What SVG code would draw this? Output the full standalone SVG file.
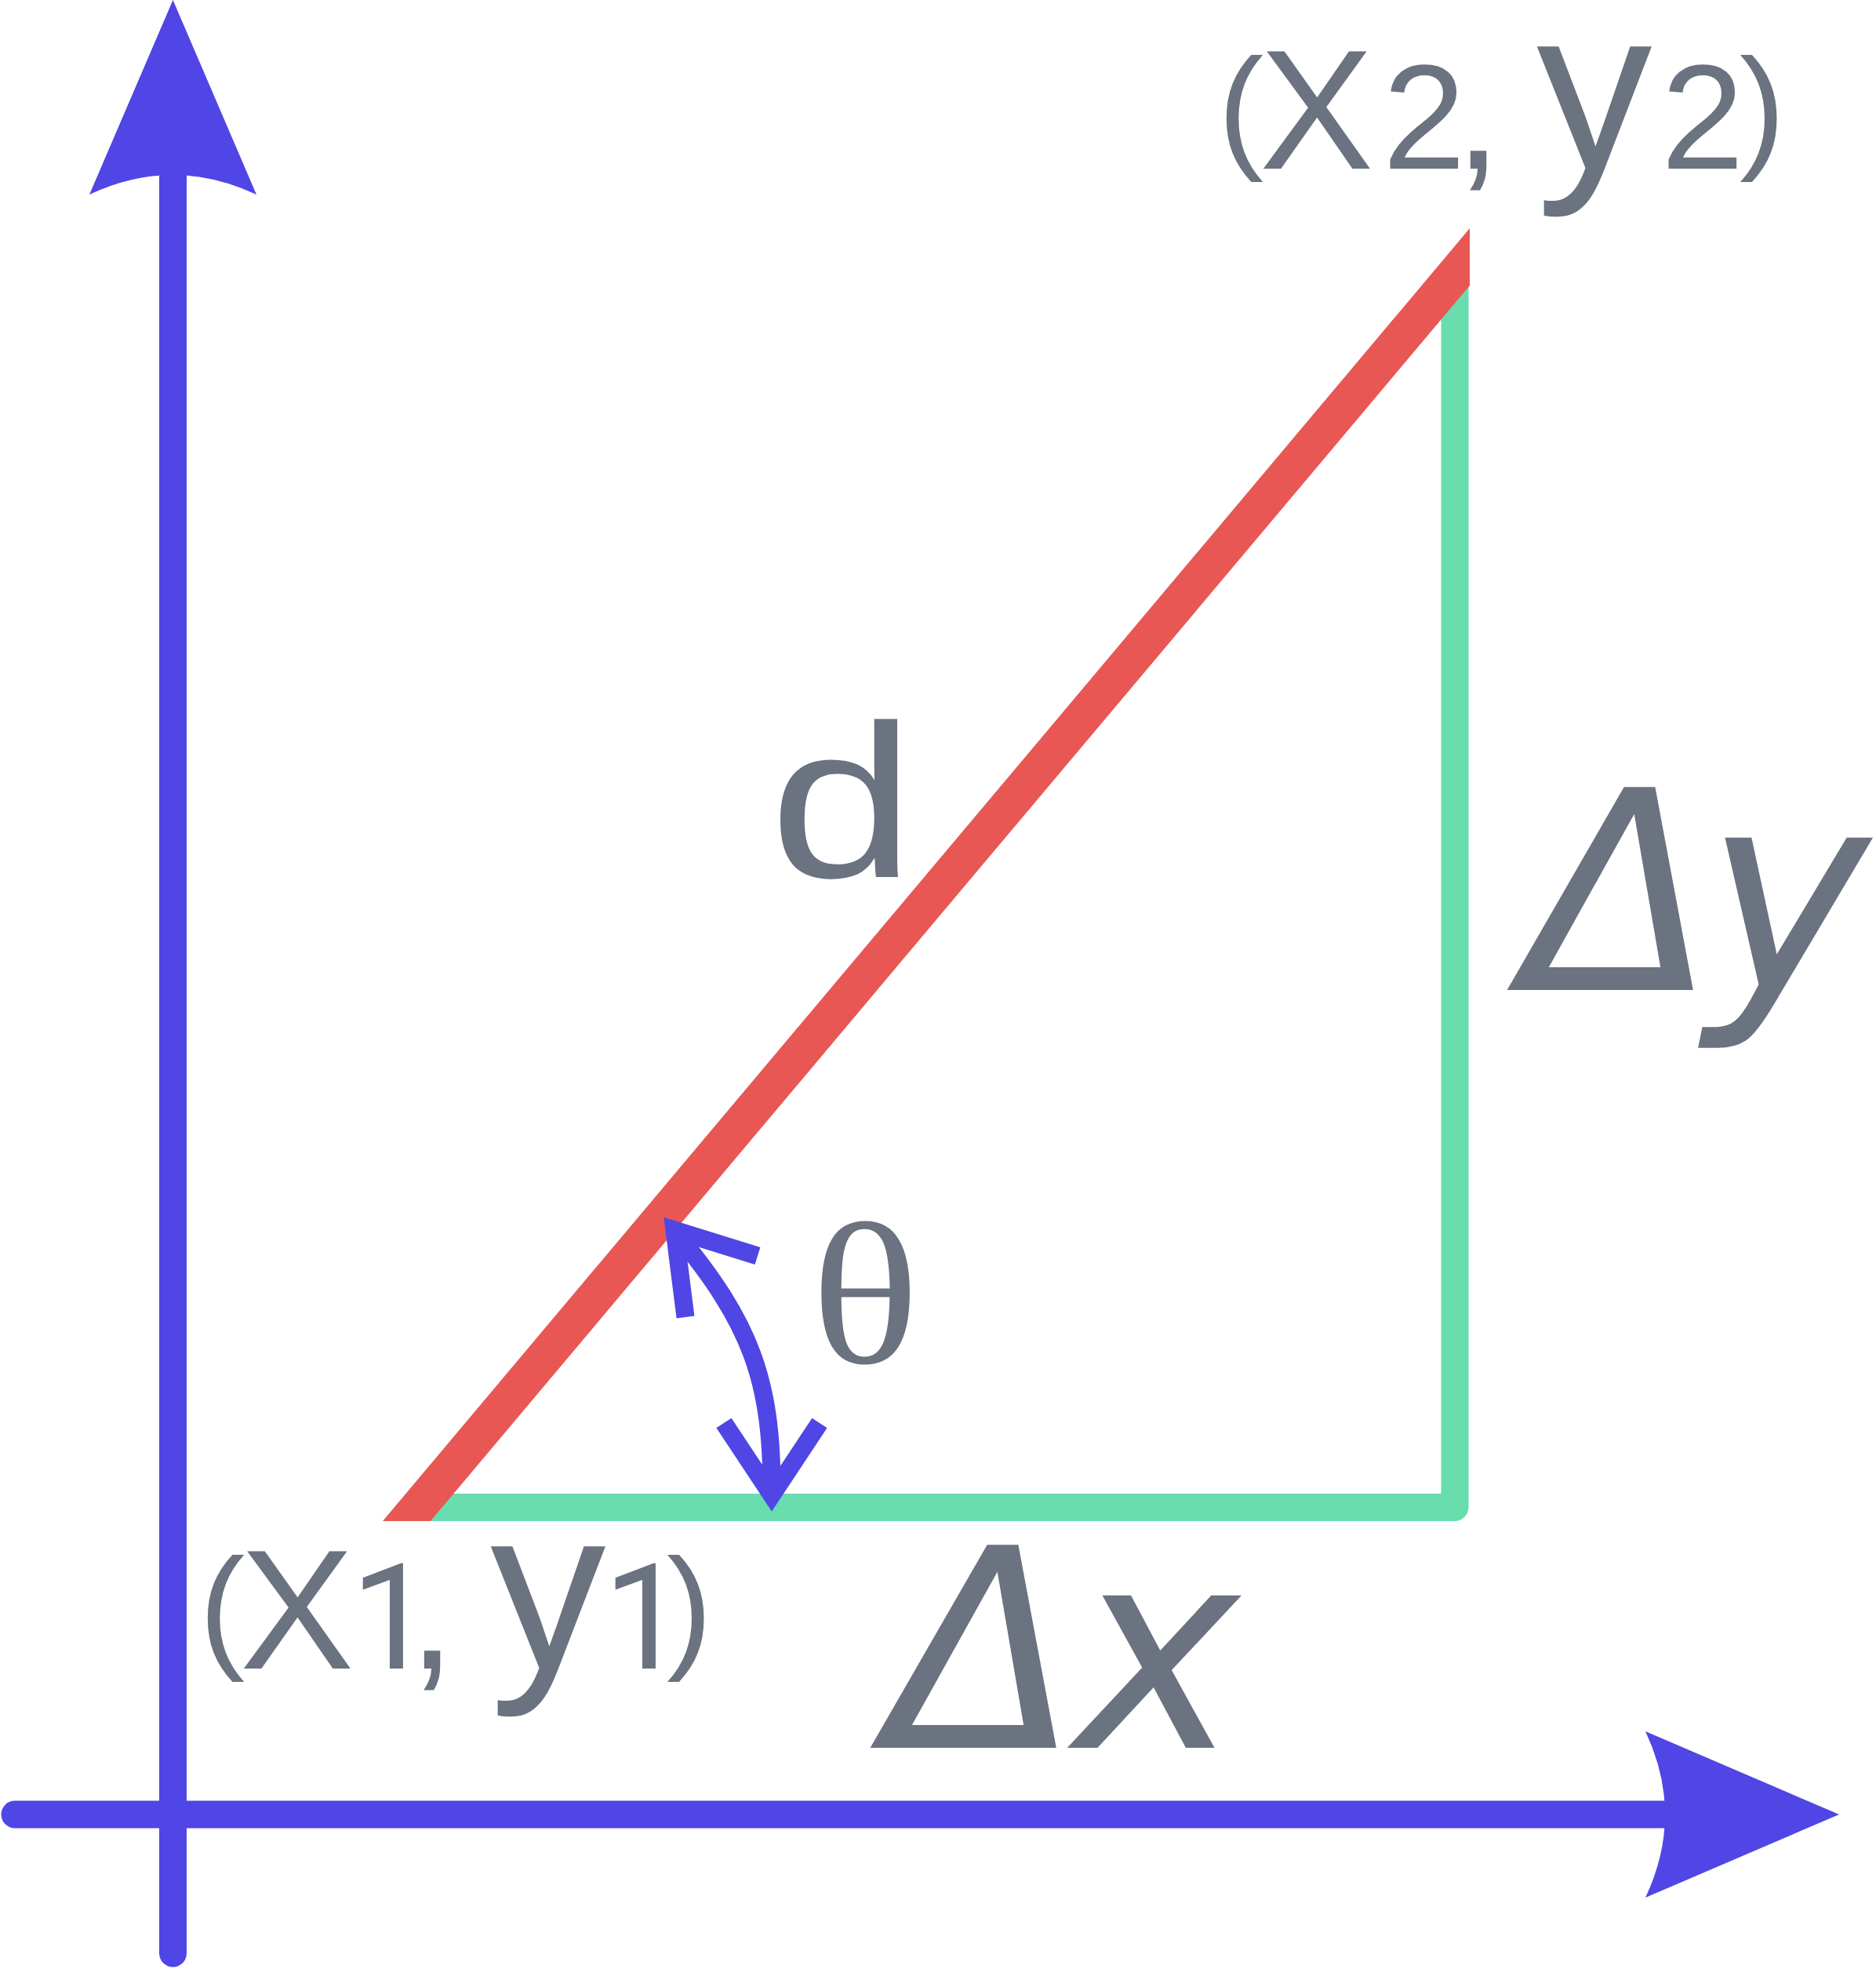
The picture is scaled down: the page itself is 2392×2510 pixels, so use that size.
<svg xmlns="http://www.w3.org/2000/svg" width="2392" height="2510" viewBox="0 0 2392 2510">
<style>
.lbl{fill:#6b7280;font-family:"Liberation Sans",Arial,sans-serif}
.dig{font-family:Roboto,"Liberation Sans",sans-serif}
.math{fill:#6b7280;font-family:"DejaVu Sans",sans-serif;font-style:italic}
.greek{fill:#6b7280;font-family:"Liberation Serif","Times New Roman",serif}
.axis{stroke:#4f46e5;stroke-width:35;fill:none;stroke-linecap:round}
.head{fill:#4f46e5}
.ang{stroke:#4f46e5;stroke-width:23;fill:none;stroke-linecap:butt;stroke-linejoin:miter}
</style>
<rect width="2392" height="2510" fill="#ffffff"/>
<g id="connectors">
  <g id="y-axis">
    <path class="axis" d="M220.5 2490 L220.5 226"/>
    <path class="head" d="M220.5 0 L327 248 Q220.5 198 114 248 Z"/>
  </g>
  <g id="x-axis">
    <path class="axis" d="M19 2313 L2126 2313"/>
    <path class="head" d="M2345 2313 L2098 2207 Q2148 2313 2098 2419 Z"/>
  </g>
  <g id="legs">
    <path d="M1855 360 L1855 1921.5 L530 1921.5" fill="none" stroke="#69ddae" stroke-width="35" stroke-linejoin="round"/>
  </g>
  <g id="hypotenuse">
    <polygon points="488,1939 549,1939 1874,364 1874,291" fill="#e85754"/>
  </g>
  <g id="angle-arrow">
    <path class="ang" d="M862 1572 C958 1687 984 1760 984 1900"/>
    <polyline class="ang" points="966,1601 860,1568 874,1679"/>
    <polyline class="ang" points="923,1814 984,1906 1045,1814"/>
  </g>
</g>
<g id="label-p2">
  <text class="lbl"><tspan x="1553" y="196" font-size="175">(</tspan><tspan x="1606" y="215" font-size="218">X</tspan><tspan x="1763" y="215" font-size="190">2</tspan><tspan x="1855" y="215" font-size="214">, </tspan><tspan x="1959" y="215" font-size="295">y</tspan><tspan x="2118" y="215" font-size="190">2</tspan><tspan x="2218" y="196" font-size="175">)</tspan></text>
</g>
<g id="label-p1">
  <text class="lbl"><tspan x="254" y="2108" font-size="175">(</tspan><tspan x="306" y="2127" font-size="218">X</tspan><tspan class="dig" x="447" y="2127" font-size="188">1</tspan><tspan x="521" y="2127" font-size="214">, </tspan><tspan x="625" y="2127" font-size="295">y</tspan><tspan class="dig" x="769" y="2127" font-size="188">1</tspan><tspan x="850" y="2108" font-size="175">)</tspan></text>
</g>
<g id="label-d">
  <text class="lbl" x="981" y="1118" font-size="278" transform="translate(981 0) scale(1.2 1) translate(-981 0)">d</text>
</g>
<g id="label-theta">
  <text class="greek" x="1103" y="1737" font-size="258" text-anchor="middle" transform="translate(1103 0) scale(1.12 1) translate(-1103 0)">θ</text>
</g>
<g id="label-dx">
  <text class="math" font-size="355"><tspan x="1132" y="2228">Δ</tspan><tspan x="1370" y="2228">x</tspan></text>
</g>
<g id="label-dy">
  <text class="math" font-size="355"><tspan x="1944" y="1262">Δ</tspan><tspan x="2174" y="1262">y</tspan></text>
</g>
</svg>
